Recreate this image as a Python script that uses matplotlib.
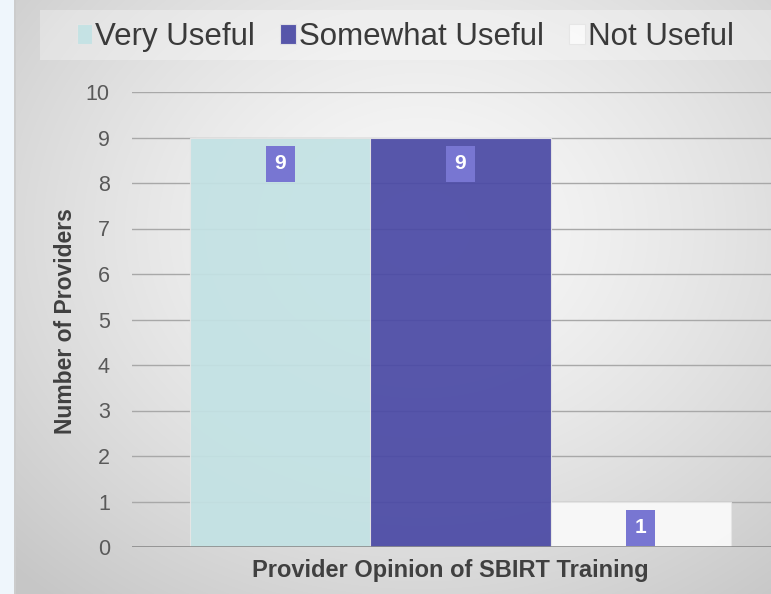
import numpy as np
import matplotlib
matplotlib.use("Agg")
import matplotlib.pyplot as plt
from matplotlib.patches import Rectangle

# chart data
category = "Provider Opinion of SBIRT Training"
series = ["Very Useful", "Somewhat Useful", "Not Useful"]
counts = [9, 9, 1]
colors = ["#c3e2e4", "#4b4aa5", "#fafafa"]
yticks = list(range(0, 11))

plt.rcParams['font.family'] = ['Liberation Sans', 'DejaVu Sans']

fig = plt.figure(figsize=(7.71, 5.94), dpi=100)

# background: pale strip on the left, radial grey gradient for the slide
bg = fig.add_axes([0, 0, 1, 1], zorder=-10)
bg.set_axis_off()
W, H = 771, 594
xx, yy = np.meshgrid(np.arange(W), np.arange(H))
r = np.sqrt(((xx - 420) / 520.0) ** 2 + ((yy - 230) / 430.0) ** 2)
shade = np.clip(0.975 - 0.17 * r ** 1.4, 0.78, 0.975)
img = np.dstack([shade, shade, shade])
img[:, :14] = [0.941, 0.965, 0.992]
img[:, 14:16] = [0.80, 0.80, 0.80]
bg.imshow(img, extent=[0, 1, 0, 1], aspect='auto', origin='upper')
bg.set_xlim(0, 1)
bg.set_ylim(0, 1)

# legend band
fig.patches.append(Rectangle((40 / W, 1 - 60 / H), 1, 50 / H, transform=fig.transFigure,
                             facecolor='white', alpha=0.3, edgecolor='none', zorder=-5))

ax = fig.add_axes([132 / W, 1 - 547 / H, (789 - 132) / W, (547 - 92) / H])
ax.patch.set_alpha(0)
ax.set_xlim(-0.5, 0.5)
ax.set_ylim(0, 10)

width = 0.2745
offsets = [-width, 0, width]
handles = []
for name, val, col, off in zip(series, counts, colors, offsets):
    b = ax.bar(off, val, width=width, color=col, alpha=0.93, edgecolor='#e6e6e6',
               linewidth=0.8, zorder=3, label=name)
    handles.append(b)
    ax.annotate(str(val), xy=(off, val), xytext=(0, -19), textcoords='offset points',
                ha='center', va='center', fontsize=15, fontweight='bold', color='white',
                zorder=5, bbox=dict(boxstyle='square,pad=0.42', facecolor='#7876d2',
                                    edgecolor='none'))

ax.set_yticks(yticks)
ax.set_xticks([])
ax.yaxis.grid(True, color='#a8a8a8', linewidth=1, zorder=1)
ax.axhline(0, color='#8c8c8c', linewidth=1.2, zorder=4)
for s in ax.spines.values():
    s.set_visible(False)
ax.tick_params(axis='y', length=0, pad=16, labelsize=15.5, labelcolor='#595959')

fig.text(66 / W, 1 - 321 / H, "Number of Providers", rotation=90, ha='center', va='center',
         fontsize=16.5, fontweight='bold', color='#404040')
fig.text(450 / W, 1 - 571 / H, category, ha='center', va='center',
         fontsize=17, fontweight='bold', color='#404040')

fig.legend(handles=handles, labels=series, loc='center left',
           bbox_to_anchor=(61 / W, 1 - 37 / H), ncol=3, frameon=False,
           prop={'size': 22.5}, labelcolor='#3a3a3a',
           handlelength=0.5, handleheight=0.6,
           handletextpad=0.1, columnspacing=0.8, borderpad=0)

fig.savefig("out.png", dpi=100)
